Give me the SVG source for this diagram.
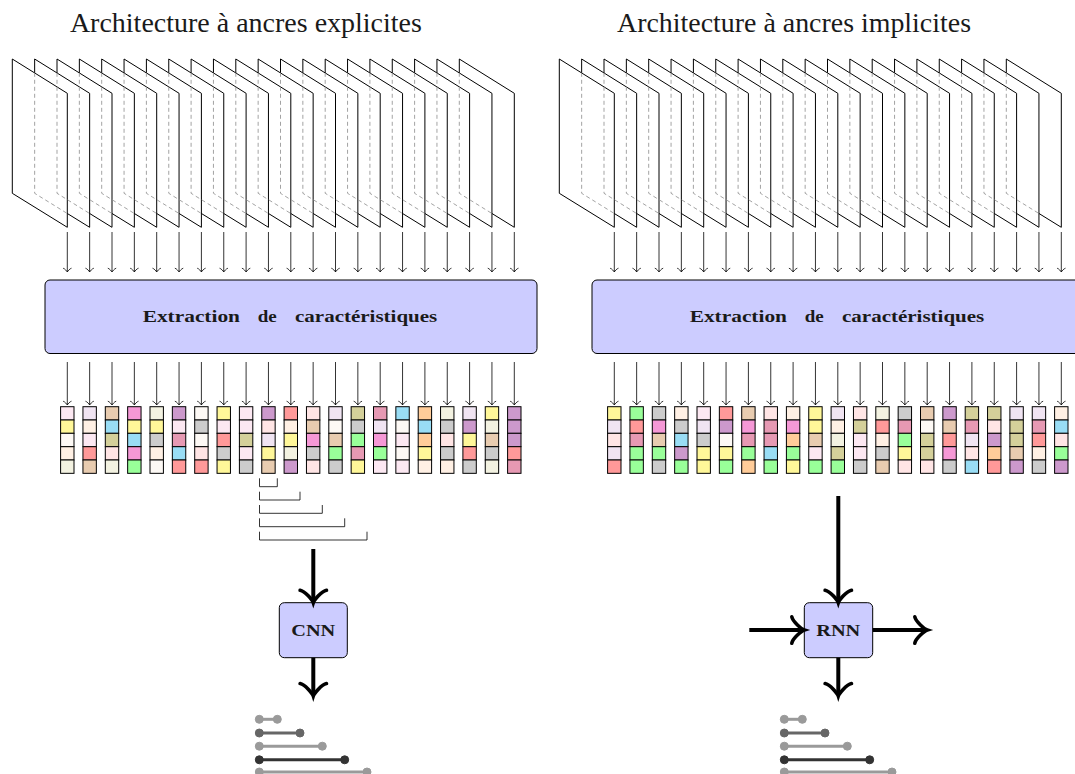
<svg xmlns="http://www.w3.org/2000/svg" xmlns:xlink="http://www.w3.org/1999/xlink" width="1075" height="774" viewBox="0 0 1075 774">
<style>
.title{font-family:"Liberation Serif","Times New Roman",serif;font-size:27px;fill:#1a1a1a}
.lbl{font-family:"Liberation Serif","Times New Roman",serif;font-size:17px;font-weight:bold;fill:#1a1a1a}
.fr{fill:#fff;stroke:#000;stroke-width:1}
.hid{fill:none;stroke:#999;stroke-width:0.9;stroke-dasharray:4 3}
.a{stroke:#000;stroke-width:0.8;marker-end:url(#ht)}
.ta{stroke:#000;stroke-width:4;marker-end:url(#hk)}
.box{fill:#ccccff;stroke:#000;stroke-width:1}
.col rect{width:13.4px;height:13.33px;stroke:#000;stroke-width:1}
.br{fill:none;stroke:#000;stroke-width:0.8}
.pk{fill:#fce8f2}.lv{fill:#f0e4f2}.tn{fill:#e8ccb0}.mg{fill:#f598d6}.cr{fill:#f3f2e1}
.pu{fill:#cc99cc}.wh{fill:#fdf9f5}.ye{fill:#fff799}.lr{fill:#ffe5e5}.rd{fill:#ff9999}
.pe{fill:#fff0e4}.cy{fill:#99ddf5}.ol{fill:#d4d09a}.mv{fill:#e699b3}.gy{fill:#cccccc}
.gr{fill:#99ff99}.or{fill:#ffcc99}
.b1{stroke:#9a9a9a;fill:#9a9a9a}.b2{stroke:#666;fill:#666}.b4{stroke:#333;fill:#333}
.bar line{stroke-width:3}
</style>
<defs>
<marker id="ht" markerUnits="userSpaceOnUse" viewBox="-6 -6 12 12" markerWidth="12" markerHeight="12" refX="0" refY="0" orient="auto" overflow="visible">
<path d="M-3.8,-4.2 C-3.5,-2.6 -0.6,-0.3 0,0 C-0.6,0.3 -3.5,2.6 -3.8,4.2" fill="none" stroke="#000" stroke-width="0.8"/>
</marker>
<marker id="hk" markerUnits="userSpaceOnUse" viewBox="-20 -20 40 40" markerWidth="40" markerHeight="40" refX="0" refY="0" orient="auto" overflow="visible">
<path d="M-11,-13.2 C-10.1,-8.25 -1,-0.8 1.5,0 C-1,0.8 -10.1,8.25 -11,13.2" fill="none" stroke="#000" stroke-width="3.6" stroke-linecap="round"/>
</marker>
<polygon id="fp" class="fr" points="0,59 55,93.3 55,227.3 0,193.3"/>
<path id="hp" class="hid" d="M0,72.8 V193.3 L32.65,213.5"/>
</defs>

<text class="title" x="245.9" y="31.7" text-anchor="middle" textLength="352" lengthAdjust="spacingAndGlyphs">Architecture à ancres explicites</text>
<text class="title" x="794" y="31.7" text-anchor="middle" textLength="354" lengthAdjust="spacingAndGlyphs">Architecture à ancres implicites</text>

<g id="frames-left">
<use href="#fp" x="459.3"/><use href="#fp" x="436.95"/><use href="#fp" x="414.6"/><use href="#fp" x="392.25"/><use href="#fp" x="369.9"/><use href="#fp" x="347.55"/><use href="#fp" x="325.2"/><use href="#fp" x="302.85"/><use href="#fp" x="280.5"/><use href="#fp" x="258.15"/><use href="#fp" x="235.8"/><use href="#fp" x="213.45"/><use href="#fp" x="191.1"/><use href="#fp" x="168.75"/><use href="#fp" x="146.4"/><use href="#fp" x="124.05"/><use href="#fp" x="101.7"/><use href="#fp" x="79.35"/><use href="#fp" x="57"/><use href="#fp" x="34.65"/><use href="#fp" x="12.3"/>
<use href="#hp" x="34.65"/><use href="#hp" x="57"/><use href="#hp" x="79.35"/><use href="#hp" x="101.7"/><use href="#hp" x="124.05"/><use href="#hp" x="146.4"/><use href="#hp" x="168.75"/><use href="#hp" x="191.1"/><use href="#hp" x="213.45"/><use href="#hp" x="235.8"/><use href="#hp" x="258.15"/><use href="#hp" x="280.5"/><use href="#hp" x="302.85"/><use href="#hp" x="325.2"/><use href="#hp" x="347.55"/><use href="#hp" x="369.9"/><use href="#hp" x="392.25"/><use href="#hp" x="414.6"/><use href="#hp" x="436.95"/><use href="#hp" x="459.3"/>
</g>

<g id="frames-right">
<use href="#fp" x="1006.3"/><use href="#fp" x="983.95"/><use href="#fp" x="961.6"/><use href="#fp" x="939.25"/><use href="#fp" x="916.9"/><use href="#fp" x="894.55"/><use href="#fp" x="872.2"/><use href="#fp" x="849.85"/><use href="#fp" x="827.5"/><use href="#fp" x="805.15"/><use href="#fp" x="782.8"/><use href="#fp" x="760.45"/><use href="#fp" x="738.1"/><use href="#fp" x="715.75"/><use href="#fp" x="693.4"/><use href="#fp" x="671.05"/><use href="#fp" x="648.7"/><use href="#fp" x="626.35"/><use href="#fp" x="604"/><use href="#fp" x="581.65"/><use href="#fp" x="559.3"/>
<use href="#hp" x="581.65"/><use href="#hp" x="604"/><use href="#hp" x="626.35"/><use href="#hp" x="648.7"/><use href="#hp" x="671.05"/><use href="#hp" x="693.4"/><use href="#hp" x="715.75"/><use href="#hp" x="738.1"/><use href="#hp" x="760.45"/><use href="#hp" x="782.8"/><use href="#hp" x="805.15"/><use href="#hp" x="827.5"/><use href="#hp" x="849.85"/><use href="#hp" x="872.2"/><use href="#hp" x="894.55"/><use href="#hp" x="916.9"/><use href="#hp" x="939.25"/><use href="#hp" x="961.6"/><use href="#hp" x="983.95"/><use href="#hp" x="1006.3"/>
</g>

<g id="extraction-left">
<rect class="box" x="45" y="280" width="492" height="73.5" rx="5"/>
<text class="lbl" x="142.7" y="321.7" textLength="97.3" lengthAdjust="spacingAndGlyphs">Extraction</text>
<text class="lbl" x="257.7" y="321.7" textLength="19" lengthAdjust="spacingAndGlyphs">de</text>
<text class="lbl" x="295" y="321.7" textLength="142.3" lengthAdjust="spacingAndGlyphs">caractéristiques</text>
</g>
<g id="extraction-right">
<rect class="box" x="592" y="280" width="492" height="73.5" rx="5"/>
<text class="lbl" x="689.7" y="321.7" textLength="97.3" lengthAdjust="spacingAndGlyphs">Extraction</text>
<text class="lbl" x="804.7" y="321.7" textLength="19" lengthAdjust="spacingAndGlyphs">de</text>
<text class="lbl" x="842" y="321.7" textLength="142.3" lengthAdjust="spacingAndGlyphs">caractéristiques</text>
</g>

<g id="features-left">
<g class="col" transform="translate(60.6,0)"><rect y="406.7" class="pk"/><rect y="420" class="ye"/><rect y="433.3" class="wh"/><rect y="446.7" class="pe"/><rect y="460" class="cr"/></g>
<g class="col" transform="translate(82.95,0)"><rect y="406.7" class="lv"/><rect y="420" class="pe"/><rect y="433.3" class="pk"/><rect y="446.7" class="rd"/><rect y="460" class="tn"/></g>
<g class="col" transform="translate(105.3,0)"><rect y="406.7" class="tn"/><rect y="420" class="cy"/><rect y="433.3" class="ol"/><rect y="446.7" class="lr"/><rect y="460" class="cr"/></g>
<g class="col" transform="translate(127.65,0)"><rect y="406.7" class="mg"/><rect y="420" class="ye"/><rect y="433.3" class="cy"/><rect y="446.7" class="mg"/><rect y="460" class="gr"/></g>
<g class="col" transform="translate(150,0)"><rect y="406.7" class="cr"/><rect y="420" class="ye"/><rect y="433.3" class="gy"/><rect y="446.7" class="pe"/><rect y="460" class="wh"/></g>
<g class="col" transform="translate(172.35,0)"><rect y="406.7" class="pu"/><rect y="420" class="pk"/><rect y="433.3" class="mv"/><rect y="446.7" class="cy"/><rect y="460" class="rd"/></g>
<g class="col" transform="translate(194.7,0)"><rect y="406.7" class="wh"/><rect y="420" class="gy"/><rect y="433.3" class="wh"/><rect y="446.7" class="lr"/><rect y="460" class="rd"/></g>
<g class="col" transform="translate(217.05,0)"><rect y="406.7" class="ye"/><rect y="420" class="pk"/><rect y="433.3" class="rd"/><rect y="446.7" class="gy"/><rect y="460" class="ye"/></g>
<g class="col" transform="translate(239.4,0)"><rect y="406.7" class="pk"/><rect y="420" class="pk"/><rect y="433.3" class="ol"/><rect y="446.7" class="pk"/><rect y="460" class="gy"/></g>
<g class="col" transform="translate(261.75,0)"><rect y="406.7" class="pu"/><rect y="420" class="lr"/><rect y="433.3" class="lv"/><rect y="446.7" class="ye"/><rect y="460" class="tn"/></g>
<g class="col" transform="translate(284.1,0)"><rect y="406.7" class="rd"/><rect y="420" class="pe"/><rect y="433.3" class="ye"/><rect y="446.7" class="cr"/><rect y="460" class="pu"/></g>
<g class="col" transform="translate(306.45,0)"><rect y="406.7" class="lr"/><rect y="420" class="tn"/><rect y="433.3" class="mg"/><rect y="446.7" class="gy"/><rect y="460" class="lr"/></g>
<g class="col" transform="translate(328.8,0)"><rect y="406.7" class="lv"/><rect y="420" class="wh"/><rect y="433.3" class="tn"/><rect y="446.7" class="gr"/><rect y="460" class="gy"/></g>
<g class="col" transform="translate(351.15,0)"><rect y="406.7" class="ol"/><rect y="420" class="gy"/><rect y="433.3" class="gr"/><rect y="446.7" class="mv"/><rect y="460" class="ye"/></g>
<g class="col" transform="translate(373.5,0)"><rect y="406.7" class="mv"/><rect y="420" class="lv"/><rect y="433.3" class="mg"/><rect y="446.7" class="gr"/><rect y="460" class="pk"/></g>
<g class="col" transform="translate(395.85,0)"><rect y="406.7" class="cy"/><rect y="420" class="wh"/><rect y="433.3" class="pk"/><rect y="446.7" class="wh"/><rect y="460" class="pk"/></g>
<g class="col" transform="translate(418.2,0)"><rect y="406.7" class="or"/><rect y="420" class="cy"/><rect y="433.3" class="or"/><rect y="446.7" class="ye"/><rect y="460" class="pe"/></g>
<g class="col" transform="translate(440.55,0)"><rect y="406.7" class="cr"/><rect y="420" class="gy"/><rect y="433.3" class="lr"/><rect y="446.7" class="gy"/><rect y="460" class="pe"/></g>
<g class="col" transform="translate(462.9,0)"><rect y="406.7" class="lv"/><rect y="420" class="pu"/><rect y="433.3" class="ye"/><rect y="446.7" class="rd"/><rect y="460" class="gy"/></g>
<g class="col" transform="translate(485.25,0)"><rect y="406.7" class="ye"/><rect y="420" class="cr"/><rect y="433.3" class="tn"/><rect y="446.7" class="gy"/><rect y="460" class="cr"/></g>
<g class="col" transform="translate(507.6,0)"><rect y="406.7" class="pu"/><rect y="420" class="pu"/><rect y="433.3" class="pu"/><rect y="446.7" class="rd"/><rect y="460" class="mv"/></g>
</g>

<g id="features-right">
<g class="col" transform="translate(607.6,0)"><rect y="406.7" class="ye"/><rect y="420" class="lv"/><rect y="433.3" class="lr"/><rect y="446.7" class="lv"/><rect y="460" class="rd"/></g>
<g class="col" transform="translate(629.95,0)"><rect y="406.7" class="gr"/><rect y="420" class="rd"/><rect y="433.3" class="mv"/><rect y="446.7" class="gr"/><rect y="460" class="gr"/></g>
<g class="col" transform="translate(652.3,0)"><rect y="406.7" class="gy"/><rect y="420" class="mg"/><rect y="433.3" class="tn"/><rect y="446.7" class="gr"/><rect y="460" class="gy"/></g>
<g class="col" transform="translate(674.65,0)"><rect y="406.7" class="pe"/><rect y="420" class="gy"/><rect y="433.3" class="cy"/><rect y="446.7" class="pu"/><rect y="460" class="gr"/></g>
<g class="col" transform="translate(697,0)"><rect y="406.7" class="pk"/><rect y="420" class="lv"/><rect y="433.3" class="gy"/><rect y="446.7" class="ye"/><rect y="460" class="ye"/></g>
<g class="col" transform="translate(719.35,0)"><rect y="406.7" class="rd"/><rect y="420" class="pu"/><rect y="433.3" class="wh"/><rect y="446.7" class="ye"/><rect y="460" class="gr"/></g>
<g class="col" transform="translate(741.7,0)"><rect y="406.7" class="tn"/><rect y="420" class="mg"/><rect y="433.3" class="mv"/><rect y="446.7" class="gr"/><rect y="460" class="or"/></g>
<g class="col" transform="translate(764.05,0)"><rect y="406.7" class="lr"/><rect y="420" class="mv"/><rect y="433.3" class="mv"/><rect y="446.7" class="cy"/><rect y="460" class="gr"/></g>
<g class="col" transform="translate(786.4,0)"><rect y="406.7" class="pe"/><rect y="420" class="mg"/><rect y="433.3" class="or"/><rect y="446.7" class="gr"/><rect y="460" class="ye"/></g>
<g class="col" transform="translate(808.75,0)"><rect y="406.7" class="ye"/><rect y="420" class="ye"/><rect y="433.3" class="tn"/><rect y="446.7" class="pk"/><rect y="460" class="gr"/></g>
<g class="col" transform="translate(831.1,0)"><rect y="406.7" class="lv"/><rect y="420" class="pe"/><rect y="433.3" class="cr"/><rect y="446.7" class="ol"/><rect y="460" class="gr"/></g>
<g class="col" transform="translate(853.45,0)"><rect y="406.7" class="lr"/><rect y="420" class="ol"/><rect y="433.3" class="pk"/><rect y="446.7" class="pk"/><rect y="460" class="gy"/></g>
<g class="col" transform="translate(875.8,0)"><rect y="406.7" class="cr"/><rect y="420" class="rd"/><rect y="433.3" class="pe"/><rect y="446.7" class="gy"/><rect y="460" class="tn"/></g>
<g class="col" transform="translate(898.15,0)"><rect y="406.7" class="gy"/><rect y="420" class="mv"/><rect y="433.3" class="gr"/><rect y="446.7" class="ye"/><rect y="460" class="lr"/></g>
<g class="col" transform="translate(920.5,0)"><rect y="406.7" class="tn"/><rect y="420" class="wh"/><rect y="433.3" class="ol"/><rect y="446.7" class="ol"/><rect y="460" class="lr"/></g>
<g class="col" transform="translate(942.85,0)"><rect y="406.7" class="pu"/><rect y="420" class="tn"/><rect y="433.3" class="rd"/><rect y="446.7" class="mg"/><rect y="460" class="gy"/></g>
<g class="col" transform="translate(965.2,0)"><rect y="406.7" class="ol"/><rect y="420" class="mv"/><rect y="433.3" class="lv"/><rect y="446.7" class="lr"/><rect y="460" class="cy"/></g>
<g class="col" transform="translate(987.55,0)"><rect y="406.7" class="ol"/><rect y="420" class="lr"/><rect y="433.3" class="pu"/><rect y="446.7" class="or"/><rect y="460" class="rd"/></g>
<g class="col" transform="translate(1009.9,0)"><rect y="406.7" class="lv"/><rect y="420" class="ol"/><rect y="433.3" class="ol"/><rect y="446.7" class="tn"/><rect y="460" class="pu"/></g>
<g class="col" transform="translate(1032.25,0)"><rect y="406.7" class="lv"/><rect y="420" class="mv"/><rect y="433.3" class="rd"/><rect y="446.7" class="pe"/><rect y="460" class="gy"/></g>
<g class="col" transform="translate(1054.6,0)"><rect y="406.7" class="pe"/><rect y="420" class="cy"/><rect y="433.3" class="lr"/><rect y="446.7" class="gr"/><rect y="460" class="pu"/></g>
</g>

<g id="brackets">
<path class="br" d="M259.5,478.3 V486.7 H277.3 V478.3"/>
<path class="br" d="M259.5,491.7 V500 H300 V491.7"/>
<path class="br" d="M259.5,505 V513.3 H322.3 V505"/>
<path class="br" d="M259.5,518.3 V526.7 H344.7 V518.3"/>
<path class="br" d="M259.5,531.7 V540 H367 V531.7"/>
</g>

<g id="cnn">
<rect class="box" x="279.3" y="602.7" width="68" height="55" rx="5"/>
<text class="lbl" x="313.3" y="635.7" text-anchor="middle" textLength="44" lengthAdjust="spacingAndGlyphs">CNN</text>
</g>
<g id="rnn">
<rect class="box" x="804.3" y="602.7" width="68.4" height="55" rx="5"/>
<text class="lbl" x="838.3" y="635.7" text-anchor="middle" textLength="44" lengthAdjust="spacingAndGlyphs">RNN</text>
</g>

<g id="connectors">
<line class="a" x1="67.3" y1="232" x2="67.3" y2="272"/><line class="a" x1="89.65" y1="232" x2="89.65" y2="272"/><line class="a" x1="112" y1="232" x2="112" y2="272"/><line class="a" x1="134.35" y1="232" x2="134.35" y2="272"/><line class="a" x1="156.7" y1="232" x2="156.7" y2="272"/><line class="a" x1="179.05" y1="232" x2="179.05" y2="272"/><line class="a" x1="201.4" y1="232" x2="201.4" y2="272"/><line class="a" x1="223.75" y1="232" x2="223.75" y2="272"/><line class="a" x1="246.1" y1="232" x2="246.1" y2="272"/><line class="a" x1="268.45" y1="232" x2="268.45" y2="272"/><line class="a" x1="290.8" y1="232" x2="290.8" y2="272"/><line class="a" x1="313.15" y1="232" x2="313.15" y2="272"/><line class="a" x1="335.5" y1="232" x2="335.5" y2="272"/><line class="a" x1="357.85" y1="232" x2="357.85" y2="272"/><line class="a" x1="380.2" y1="232" x2="380.2" y2="272"/><line class="a" x1="402.55" y1="232" x2="402.55" y2="272"/><line class="a" x1="424.9" y1="232" x2="424.9" y2="272"/><line class="a" x1="447.25" y1="232" x2="447.25" y2="272"/><line class="a" x1="469.6" y1="232" x2="469.6" y2="272"/><line class="a" x1="491.95" y1="232" x2="491.95" y2="272"/><line class="a" x1="514.3" y1="232" x2="514.3" y2="272"/>
<line class="a" x1="614.3" y1="232" x2="614.3" y2="272"/><line class="a" x1="636.65" y1="232" x2="636.65" y2="272"/><line class="a" x1="659" y1="232" x2="659" y2="272"/><line class="a" x1="681.35" y1="232" x2="681.35" y2="272"/><line class="a" x1="703.7" y1="232" x2="703.7" y2="272"/><line class="a" x1="726.05" y1="232" x2="726.05" y2="272"/><line class="a" x1="748.4" y1="232" x2="748.4" y2="272"/><line class="a" x1="770.75" y1="232" x2="770.75" y2="272"/><line class="a" x1="793.1" y1="232" x2="793.1" y2="272"/><line class="a" x1="815.45" y1="232" x2="815.45" y2="272"/><line class="a" x1="837.8" y1="232" x2="837.8" y2="272"/><line class="a" x1="860.15" y1="232" x2="860.15" y2="272"/><line class="a" x1="882.5" y1="232" x2="882.5" y2="272"/><line class="a" x1="904.85" y1="232" x2="904.85" y2="272"/><line class="a" x1="927.2" y1="232" x2="927.2" y2="272"/><line class="a" x1="949.55" y1="232" x2="949.55" y2="272"/><line class="a" x1="971.9" y1="232" x2="971.9" y2="272"/><line class="a" x1="994.25" y1="232" x2="994.25" y2="272"/><line class="a" x1="1016.6" y1="232" x2="1016.6" y2="272"/><line class="a" x1="1038.95" y1="232" x2="1038.95" y2="272"/><line class="a" x1="1061.3" y1="232" x2="1061.3" y2="272"/>
<line class="a" x1="67.3" y1="362" x2="67.3" y2="405"/><line class="a" x1="89.65" y1="362" x2="89.65" y2="405"/><line class="a" x1="112" y1="362" x2="112" y2="405"/><line class="a" x1="134.35" y1="362" x2="134.35" y2="405"/><line class="a" x1="156.7" y1="362" x2="156.7" y2="405"/><line class="a" x1="179.05" y1="362" x2="179.05" y2="405"/><line class="a" x1="201.4" y1="362" x2="201.4" y2="405"/><line class="a" x1="223.75" y1="362" x2="223.75" y2="405"/><line class="a" x1="246.1" y1="362" x2="246.1" y2="405"/><line class="a" x1="268.45" y1="362" x2="268.45" y2="405"/><line class="a" x1="290.8" y1="362" x2="290.8" y2="405"/><line class="a" x1="313.15" y1="362" x2="313.15" y2="405"/><line class="a" x1="335.5" y1="362" x2="335.5" y2="405"/><line class="a" x1="357.85" y1="362" x2="357.85" y2="405"/><line class="a" x1="380.2" y1="362" x2="380.2" y2="405"/><line class="a" x1="402.55" y1="362" x2="402.55" y2="405"/><line class="a" x1="424.9" y1="362" x2="424.9" y2="405"/><line class="a" x1="447.25" y1="362" x2="447.25" y2="405"/><line class="a" x1="469.6" y1="362" x2="469.6" y2="405"/><line class="a" x1="491.95" y1="362" x2="491.95" y2="405"/><line class="a" x1="514.3" y1="362" x2="514.3" y2="405"/>
<line class="a" x1="614.3" y1="362" x2="614.3" y2="405"/><line class="a" x1="636.65" y1="362" x2="636.65" y2="405"/><line class="a" x1="659" y1="362" x2="659" y2="405"/><line class="a" x1="681.35" y1="362" x2="681.35" y2="405"/><line class="a" x1="703.7" y1="362" x2="703.7" y2="405"/><line class="a" x1="726.05" y1="362" x2="726.05" y2="405"/><line class="a" x1="748.4" y1="362" x2="748.4" y2="405"/><line class="a" x1="770.75" y1="362" x2="770.75" y2="405"/><line class="a" x1="793.1" y1="362" x2="793.1" y2="405"/><line class="a" x1="815.45" y1="362" x2="815.45" y2="405"/><line class="a" x1="837.8" y1="362" x2="837.8" y2="405"/><line class="a" x1="860.15" y1="362" x2="860.15" y2="405"/><line class="a" x1="882.5" y1="362" x2="882.5" y2="405"/><line class="a" x1="904.85" y1="362" x2="904.85" y2="405"/><line class="a" x1="927.2" y1="362" x2="927.2" y2="405"/><line class="a" x1="949.55" y1="362" x2="949.55" y2="405"/><line class="a" x1="971.9" y1="362" x2="971.9" y2="405"/><line class="a" x1="994.25" y1="362" x2="994.25" y2="405"/><line class="a" x1="1016.6" y1="362" x2="1016.6" y2="405"/><line class="a" x1="1038.95" y1="362" x2="1038.95" y2="405"/><line class="a" x1="1061.3" y1="362" x2="1061.3" y2="405"/>
<line class="ta" x1="313.3" y1="549" x2="313.3" y2="601.2"/>
<line class="ta" x1="313.3" y1="657.7" x2="313.3" y2="694.5"/>
<line class="ta" x1="838.3" y1="496" x2="838.3" y2="601.2"/>
<line class="ta" x1="838.3" y1="657.7" x2="838.3" y2="694.5"/>
<line class="ta" x1="749.3" y1="630" x2="802.8" y2="630"/>
<line class="ta" x1="872.7" y1="630" x2="925.8" y2="630"/>
</g>

<g id="outputs-left" class="bar">
<g class="b1"><line x1="259.3" y1="719.3" x2="277.3" y2="719.3"/><circle cx="259.3" cy="719.3" r="4"/><circle cx="277.3" cy="719.3" r="4"/></g>
<g class="b2"><line x1="259.3" y1="733" x2="300" y2="733"/><circle cx="259.3" cy="733" r="4"/><circle cx="300" cy="733" r="4"/></g>
<g class="b1"><line x1="259.3" y1="746.2" x2="322.3" y2="746.2"/><circle cx="259.3" cy="746.2" r="4"/><circle cx="322.3" cy="746.2" r="4"/></g>
<g class="b4"><line x1="259.3" y1="759.8" x2="344.7" y2="759.8"/><circle cx="259.3" cy="759.8" r="4"/><circle cx="344.7" cy="759.8" r="4"/></g>
<g class="b1"><line x1="259.3" y1="772" x2="367" y2="772"/><circle cx="259.3" cy="772" r="4"/><circle cx="367" cy="772" r="4"/></g>
</g>
<g id="outputs-right" class="bar">
<g class="b1"><line x1="784.3" y1="719.3" x2="802.3" y2="719.3"/><circle cx="784.3" cy="719.3" r="4"/><circle cx="802.3" cy="719.3" r="4"/></g>
<g class="b2"><line x1="784.3" y1="733" x2="825" y2="733"/><circle cx="784.3" cy="733" r="4"/><circle cx="825" cy="733" r="4"/></g>
<g class="b1"><line x1="784.3" y1="746.2" x2="847.3" y2="746.2"/><circle cx="784.3" cy="746.2" r="4"/><circle cx="847.3" cy="746.2" r="4"/></g>
<g class="b4"><line x1="784.3" y1="759.8" x2="869.7" y2="759.8"/><circle cx="784.3" cy="759.8" r="4"/><circle cx="869.7" cy="759.8" r="4"/></g>
<g class="b1"><line x1="784.3" y1="772" x2="892" y2="772"/><circle cx="784.3" cy="772" r="4"/><circle cx="892" cy="772" r="4"/></g>
</g>
</svg>
